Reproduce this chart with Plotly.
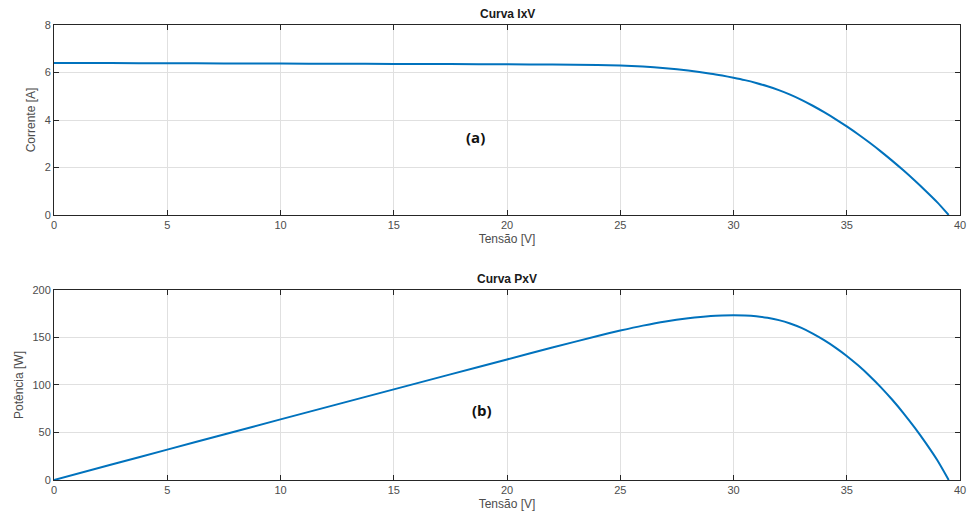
import plotly.graph_objects as go

# Measured I-V characteristic of the PV module
tensao = [0, 2.5, 5, 7.5, 10, 12.5, 15, 17.5, 20, 22, 24, 25, 26, 27, 28, 29,
          29.5, 30, 30.5, 31, 31.5, 32, 32.5, 33, 33.5, 34, 34.5, 35, 35.5, 36,
          36.5, 37, 37.5, 38, 38.5, 39, 39.5]
corrente = [6.40, 6.395, 6.39, 6.383, 6.376, 6.369, 6.362, 6.354, 6.345, 6.335,
            6.315, 6.29, 6.25, 6.18, 6.08, 5.95, 5.87, 5.78, 5.68, 5.56, 5.42,
            5.26, 5.07, 4.85, 4.60, 4.33, 4.04, 3.73, 3.40, 3.05, 2.68, 2.29,
            1.88, 1.45, 1.00, 0.53, 0.0]
potencia = [0.0, 16.0, 32.0, 47.9, 63.8, 79.6, 95.4, 111.2, 126.9, 139.4, 151.6,
            157.3, 162.5, 166.9, 170.2, 172.6, 173.2, 173.4, 173.2, 172.4, 170.7,
            168.3, 164.8, 160.1, 154.1, 147.2, 139.4, 130.6, 120.7, 109.8, 97.8,
            84.7, 70.5, 55.1, 38.5, 20.7, 0.0]

x_ticks = [0, 5, 10, 15, 20, 25, 30, 35, 40]

BLUE = "#0072BD"
FONT = "Liberation Sans"
AXIS_COLOR = "#262626"
TICK_COLOR = "#4d4d4d"
GRID = "#e0e0e0"

fig = go.Figure()
fig.add_trace(go.Scatter(x=tensao, y=corrente, mode="lines",
                         line=dict(color=BLUE, width=2, shape="spline", smoothing=0.6),
                         xaxis="x", yaxis="y", showlegend=False))
fig.add_trace(go.Scatter(x=tensao, y=potencia, mode="lines",
                         line=dict(color=BLUE, width=2, shape="spline", smoothing=0.6),
                         xaxis="x2", yaxis="y2", showlegend=False))

common_axis = dict(
    showline=True, linecolor=AXIS_COLOR, linewidth=1, mirror="ticks",
    ticks="inside", ticklen=5, tickcolor=AXIS_COLOR,
    showgrid=True, gridcolor=GRID, gridwidth=1, zeroline=False,
    tickfont=dict(family=FONT, size=11, color=TICK_COLOR),
    title_font=dict(family=FONT, size=12, color=TICK_COLOR),
)

top_dom = [0.5824, 1.0]
bot_dom = [0.0, 0.4176]

fig.update_layout(
    width=973, height=524,
    margin=dict(l=54, r=7, t=25, b=44),
    paper_bgcolor="white", plot_bgcolor="white",
    xaxis=dict(domain=[0, 1], range=[0, 40], tickvals=x_ticks, anchor="y",
               title=dict(text="Tensão [V]", standoff=4), **common_axis),
    yaxis=dict(domain=top_dom, range=[0, 8], dtick=2, anchor="x",
               title=dict(text="Corrente [A]", standoff=6), **common_axis),
    xaxis2=dict(domain=[0, 1], range=[0, 40], tickvals=x_ticks, anchor="y2",
                title=dict(text="Tensão [V]", standoff=4), **common_axis),
    yaxis2=dict(domain=bot_dom, range=[0, 200], dtick=50, anchor="x2",
                title=dict(text="Potência [W]", standoff=6), **common_axis),
    annotations=[
        dict(text="<b>Curva IxV</b>", xref="paper", yref="paper", x=0.5, y=1.0,
             yanchor="bottom", xanchor="center", showarrow=False, yshift=2,
             font=dict(family=FONT, size=12, color="#1a1a1a")),
        dict(text="<b>Curva PxV</b>", xref="paper", yref="paper", x=0.5, y=bot_dom[1],
             yanchor="bottom", xanchor="center", showarrow=False, yshift=2,
             font=dict(family=FONT, size=12, color="#1a1a1a")),
        dict(text="<b>(a)</b>", xref="x", yref="y", x=18.6, y=3.3,
             showarrow=False, font=dict(family="Open Sans", size=15, color="#111111")),
        dict(text="<b>(b)</b>", xref="x2", yref="y2", x=18.9, y=74,
             showarrow=False, font=dict(family="Open Sans", size=15, color="#111111")),
    ],
)

fig.write_html("out.html")
